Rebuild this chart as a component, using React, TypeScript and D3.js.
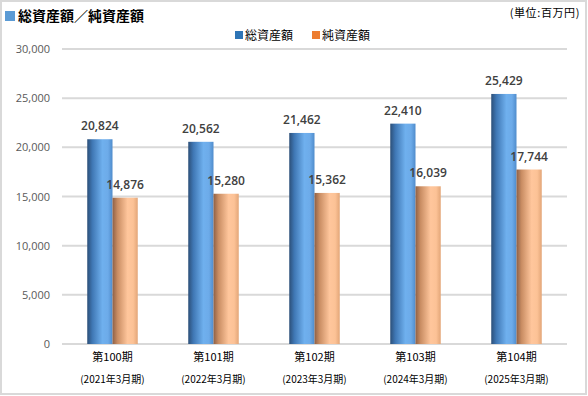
import * as d3 from "d3";

const periods = ["第100期", "第101期", "第102期", "第103期", "第104期"];
const fiscalYears = ["(2021年3月期)", "(2022年3月期)", "(2023年3月期)", "(2024年3月期)", "(2025年3月期)"];
const seriesNames = ["総資産額", "純資産額"];
const totalAssets = [20824, 20562, 21462, 22410, 25429];
const netAssets = [14876, 15280, 15362, 16039, 17744];
const yTicks = [0, 5000, 10000, 15000, 20000, 25000, 30000];

const W = 588;
const H = 396;
const jp = "'Noto Sans CJK JP', 'Noto Sans', sans-serif";
const num = "'Open Sans', 'Noto Sans', sans-serif";

export default function App() {
  const x = d3.scaleBand<string>().domain(periods).range([62, 567]).paddingInner(0.5).paddingOuter(0.25);
  const xs = d3.scaleBand<string>().domain(seriesNames).range([0, x.bandwidth()]);
  const y = d3.scaleLinear().domain([0, 30000]).range([344, 49]);
  const fmt = d3.format(",");

  const series = [
    { name: seriesNames[0], values: totalAssets, fill: "url(#gBlue)", legend: "#2e75b6" },
    { name: seriesNames[1], values: netAssets, fill: "url(#gOrange)", legend: "#ed7d31" },
  ];

  return (
    <svg width={W} height={H} style={{ position: "absolute", left: 0, top: 0 }}>
      <defs>
        <linearGradient id="gBlue" x1="0" x2="1" y1="0" y2="0">
          <stop offset="0%" stopColor="#2c4f78" />
          <stop offset="20%" stopColor="#3f77b4" />
          <stop offset="60%" stopColor="#6fb0ee" />
          <stop offset="82%" stopColor="#6dabe9" />
          <stop offset="100%" stopColor="#4f8ccc" />
        </linearGradient>
        <linearGradient id="gOrange" x1="0" x2="1" y1="0" y2="0">
          <stop offset="0%" stopColor="#8e6046" />
          <stop offset="20%" stopColor="#c98d63" />
          <stop offset="60%" stopColor="#ffc69c" />
          <stop offset="82%" stopColor="#fcc296" />
          <stop offset="100%" stopColor="#e3a678" />
        </linearGradient>
      </defs>
      <rect x={0} y={0} width={W} height={H} fill="#fff" />
      <rect x={1} y={1} width={W - 3} height={H - 3} fill="none" stroke="#d9d9d9" strokeWidth={2} />

      {/* title */}
      <rect x={5} y={11} width={10} height={10} fill="#5b9bd5" />
      <text x={18} y={21} fontFamily={jp} fontSize={14} fontWeight="bold" fill="#000">
        総資産額／純資産額
      </text>
      <text x={580} y={17} textAnchor="end" fontFamily={jp} fontSize={11} letterSpacing={0.6} fill="#000">
        (単位:百万円)
      </text>

      {/* legend */}
      {series.map((s, i) => (
        <g key={s.name} transform={`translate(${235 + i * 77},31)`}>
          <rect x={0} y={0} width={8} height={8} fill={s.legend} />
          <text x={10} y={9} fontFamily={jp} fontSize={12} fill="#000">
            {s.name}
          </text>
        </g>
      ))}

      {/* grid + y axis */}
      {yTicks.map((t) => (
        <g key={t}>
          <line x1={62} x2={567} y1={y(t)} y2={y(t)} stroke="#d9d9d9" strokeWidth={2} />
          <text x={50} y={y(t) + 4} textAnchor="end" fontFamily={num} fontSize={11} fill="#595959">
            {fmt(t)}
          </text>
        </g>
      ))}

      {/* bars */}
      {series.map((s) =>
        periods.map((p, i) => {
          const bx = (x(p) ?? 0) + (xs(s.name) ?? 0);
          const by = y(s.values[i]);
          return (
            <g key={s.name + p}>
              <rect x={bx} y={by} width={xs.bandwidth()} height={y(0) - by} fill={s.fill} />
              <text
                x={bx + xs.bandwidth() / 2}
                y={by - 9}
                textAnchor="middle"
                fontFamily={num}
                fontSize={12}
                fontWeight={600}
                fill="#404040"
              >
                {fmt(s.values[i])}
              </text>
            </g>
          );
        })
      )}

      {/* category labels */}
      {periods.map((p, i) => (
        <g key={p}>
          <text x={(x(p) ?? 0) + x.bandwidth() / 2} y={361} textAnchor="middle" fontFamily={jp} fontSize={11} fill="#000">
            {p}
          </text>
          <text x={(x(p) ?? 0) + x.bandwidth() / 2} y={383} textAnchor="middle" fontFamily={jp} fontSize={10} fill="#000">
            {fiscalYears[i]}
          </text>
        </g>
      ))}
    </svg>
  );
}
